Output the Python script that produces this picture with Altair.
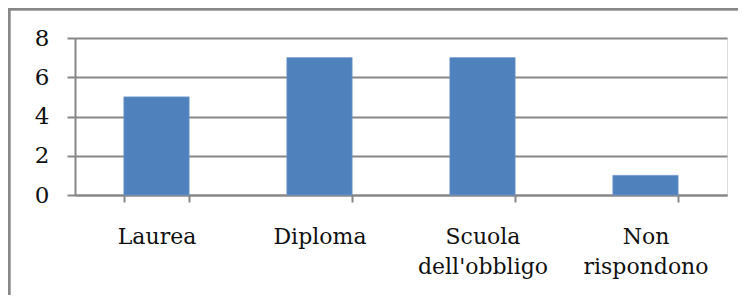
import altair as alt
import pandas as pd

categories = ["Laurea", "Diploma", "Scuola dell'obbligo", "Non rispondono"]
values = [5, 7, 7, 1]
y_ticks = [0, 2, 4, 6, 8]

df = pd.DataFrame({"cat": categories, "val": values})

FONT = "DejaVu Serif"
GRAY = "#878787"

bars = alt.Chart(df).mark_bar(color="#4F81BD", stroke="#6a95cc", strokeWidth=0.8).encode(
    x=alt.X("cat:N", sort=categories,
            scale=alt.Scale(paddingInner=0.6, paddingOuter=0.3),
            axis=alt.Axis(title=None, labelAngle=0, tickBand="extent",
                          labelExpr="split(datum.label, ' ')",
                          labelFont=FONT, labelFontSize=22, labelColor="#111",
                          labelLineHeight=30, labelPadding=24,
                          domainColor=GRAY, domainWidth=2, tickColor=GRAY,
                          tickWidth=2, tickSize=7, grid=False)),
    y=alt.Y("val:Q", scale=alt.Scale(domain=[0, 8]),
            axis=alt.Axis(title=None, values=y_ticks, labelFont=FONT, labelFontSize=23,
                          labelColor="#111", labelPadding=18, domainColor=GRAY,
                          domainWidth=2, tickColor=GRAY, tickWidth=2, tickSize=8,
                          gridColor=GRAY, gridWidth=2)),
)

border = alt.Chart(df).mark_rect(filled=False, stroke=GRAY, strokeWidth=2.5).encode(
    x=alt.value(-66), x2=alt.value(720), y=alt.value(-29), y2=alt.value(320)
)

chart = alt.layer(border, bars).properties(
    width=652, height=157,
    autosize=alt.AutoSizeParams(type="none"),
    padding={"left": 67, "top": 30, "right": 11, "bottom": 100},
).configure_view(stroke=None).configure(background="white")

chart.save("out.html", embed_options={"renderer": "svg", "actions": False})
